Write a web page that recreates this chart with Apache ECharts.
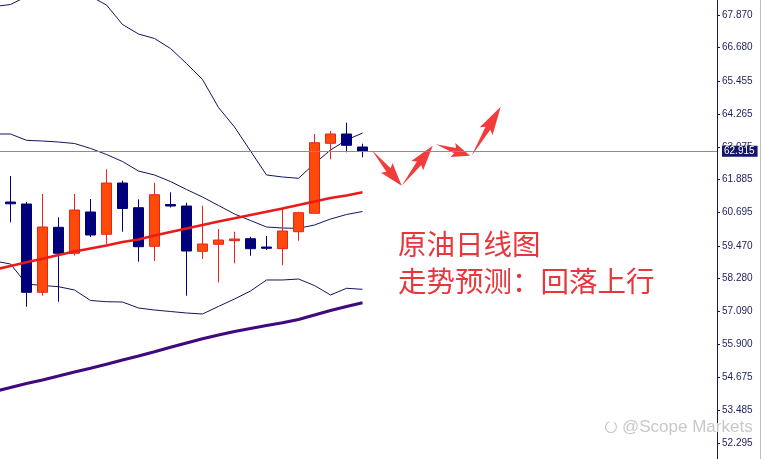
<!DOCTYPE html>
<html><head><meta charset="utf-8">
<script src="https://cdn.jsdelivr.net/npm/echarts@6/dist/echarts.min.js"></script>
<style>html,body{margin:0;padding:0;background:#fff}#c{width:763px;height:459px}</style>
</head><body><div id="c"></div>
<script>
// candle positions (bar index)
const candleIdx = [0,1,2,3,4,5,6,7,8,9,10,11,12,13,14,15,16,17,18,19,20,21,22];
const opens  = [61.065,60.992,57.779,60.144,59.198,60.701,59.890,61.756,60.858,59.453,60.974,60.919,59.271,59.526,59.657,59.730,59.427,59.366,59.984,60.654,63.201,63.540,63.067];
const closes = [61.000,57.779,60.155,59.198,60.774,59.864,61.756,60.829,59.438,61.331,60.919,59.282,59.537,59.682,59.719,59.366,59.380,60.010,60.676,63.223,63.540,63.128,62.915];
const lows   = [60.326,57.255,57.655,57.437,59.118,59.791,59.537,59.984,58.893,58.918,60.865,57.655,58.991,58.143,58.834,59.111,59.318,58.762,59.657,60.654,62.619,62.874,62.692];
const highs  = [62.011,61.065,61.356,60.508,61.356,61.174,62.255,61.840,61.163,61.767,61.418,61.040,60.930,60.083,59.984,59.802,59.828,60.810,60.712,63.540,63.649,63.951,63.187];

// indicator lines (bar index -1 .. 22)
const lineIdx = [-1,0,1,2,3,4,5,6,7,8,9,10,11,12,13,14,15,16,17,18,19,20,21,22];
const bollUpper = [68.179,68.252,68.540,68.543,68.514,68.525,68.551,68.234,67.524,67.179,67.015,66.651,66.105,65.523,64.504,63.794,62.921,62.048,61.975,61.928,62.466,62.957,63.321,63.576];
const bollMid   = [63.540,63.540,63.310,63.285,63.248,63.194,63.016,62.794,62.539,62.193,62.048,61.811,61.520,61.247,60.938,60.628,60.392,60.155,60.119,60.108,60.228,60.446,60.610,60.719];
const bollLower = [58.918,58.809,58.081,58.026,57.983,57.863,57.481,57.437,57.426,57.208,57.135,57.080,57.026,56.989,57.266,57.535,57.826,58.227,58.227,58.263,58.026,57.681,57.925,57.888];
const maRed     = [58.609,58.736,58.871,59.002,59.136,59.264,59.373,59.482,59.609,59.700,59.846,59.973,60.101,60.228,60.355,60.472,60.592,60.712,60.829,60.956,61.083,61.211,61.302,61.418];
const maPurple  = [54.169,54.315,54.460,54.588,54.733,54.879,55.013,55.159,55.315,55.461,55.618,55.781,55.934,56.087,56.225,56.353,56.462,56.571,56.669,56.789,56.953,57.117,57.262,57.401];

// forecast arrows: [fromIndex, fromValue, toIndex, toValue]
const arrowFromX = [22.58, 24.45, 26.59, 28.82];
const arrowFromY = [62.957, 61.658, 63.165, 62.750];
const arrowToX   = [24.45, 26.39, 28.72, 30.64];
const arrowToY   = [61.658, 63.114, 62.750, 64.533];

const lastPrice = 62.915;
const yTicks = [67.870,66.680,65.455,64.265,63.075,61.885,60.695,59.470,58.280,57.090,55.900,54.675,53.485,52.295];
const title1 = '原油日线图';
const title2 = '走势预测：回落上行';
const watermark = '@Scope Markets';

const candleData = candleIdx.map((x,i)=>[x, opens[i], closes[i], lows[i], highs[i]]);
const mk = arr => lineIdx.map((x,i)=>[x, arr[i]]);
const arrowData = arrowFromX.map((x,i)=>[x, arrowFromY[i], arrowToX[i], arrowToY[i]]);

const chart = echarts.init(document.getElementById('c'), null, {renderer:'canvas'});
const lineSeries = (data, color, width, z) => ({
  type:'line', data, showSymbol:false, symbol:'none', clip:true, z,
  lineStyle:{color, width}, silent:true
});
chart.setOption({
  animation:false,
  backgroundColor:'#ffffff',
  grid:{left:0, right:46, top:0, bottom:0, containLabel:false},
  xAxis:{type:'value', min:-0.65625, max:44.15625, show:false, splitLine:{show:false}},
  yAxis:{type:'value', position:'right', min:51.713, max:68.416, z:0,
    splitLine:{show:false},
    axisLine:{show:true, onZero:false, lineStyle:{color:'#14145a', width:1}},
    axisTick:{show:true, length:3, inside:false, customValues:yTicks, lineStyle:{color:'#14145a'}},
    axisLabel:{show:true, customValues:yTicks, margin:5, color:'#1e1e5e', fontSize:10,
      fontFamily:'Liberation Sans', formatter:v=>v.toFixed(3)}
  },
  graphic:[
    {type:'rect', shape:{x:760, y:0, width:1, height:459}, style:{fill:'#bdbdbd'}, silent:true},
    {type:'text', x:398, y:244, style:{text:title1, fill:'#e8363c', font:'28.5px "Noto Sans CJK SC"', textVerticalAlign:'middle'}},
    {type:'text', x:398, y:281, style:{text:title2, fill:'#e8363c', font:'28.5px "Noto Sans CJK SC"', textVerticalAlign:'middle'}},
    {type:'arc', shape:{cx:611, cy:427, r:5.5, startAngle:-Math.PI*0.3, endAngle:Math.PI*1.4}, style:{stroke:'#c8c8c8', lineWidth:1.2, fill:null}},
    {type:'text', x:622, y:427, z:100, style:{text:watermark, fill:'#c8c8c8', font:'17px "Liberation Sans"', textVerticalAlign:'middle'}}
  ],
  series:[
    lineSeries(mk(maPurple), '#3f0a7e', 3, 2),
    lineSeries(mk(bollUpper), '#14145e', 1, 2),
    lineSeries(mk(bollMid), '#14145e', 1, 2),
    lineSeries(mk(bollLower), '#14145e', 1, 2),
    {
      type:'candlestick', data:candleData, encode:{x:0, y:[1,2,3,4]}, barWidth:10, z:3,
      itemStyle:{color:'#ff4a0a', color0:'#00007a', borderColor:'#e8241c', borderColor0:'#00007a', borderWidth:1},
      markLine:{symbol:['none','none'], silent:true, z:30,
        lineStyle:{color:'#8c8c8c', width:1, type:'solid'},
        label:{show:true, position:'end', distance:5, formatter:()=>lastPrice.toFixed(3), color:'#ffffff', backgroundColor:'#15156a', padding:[1,3,0,2], fontSize:10, fontFamily:'Liberation Sans'},
        data:[{yAxis:lastPrice}]}
    },
    lineSeries(mk(maRed), '#ea1a1a', 2.6, 4),
    {
      type:'custom', data:arrowData, encode:{x:[0,2], y:[1,3]}, z:5, silent:true,
      renderItem:(params, api)=>{
        const s = api.coord([api.value(0), api.value(1)]);
        const t = api.coord([api.value(2), api.value(3)]);
        const dx = t[0]-s[0], dy = t[1]-s[1];
        const L = Math.hypot(dx, dy);
        const ux = dx/L, uy = dy/L, nx = -uy, ny = ux;
        const pt = (a, w) => [s[0]+ux*a+nx*w, s[1]+uy*a+ny*w];
        const pts = [s, pt(L*0.56, 2.8), pt(L*0.5, 7.5), t, pt(L*0.5, -7.5), pt(L*0.56, -2.8)];
        return {type:'polygon', shape:{points:pts}, style:{fill:'#f23c3c'}};
      }
    }
  ]
});
</script></body></html>
